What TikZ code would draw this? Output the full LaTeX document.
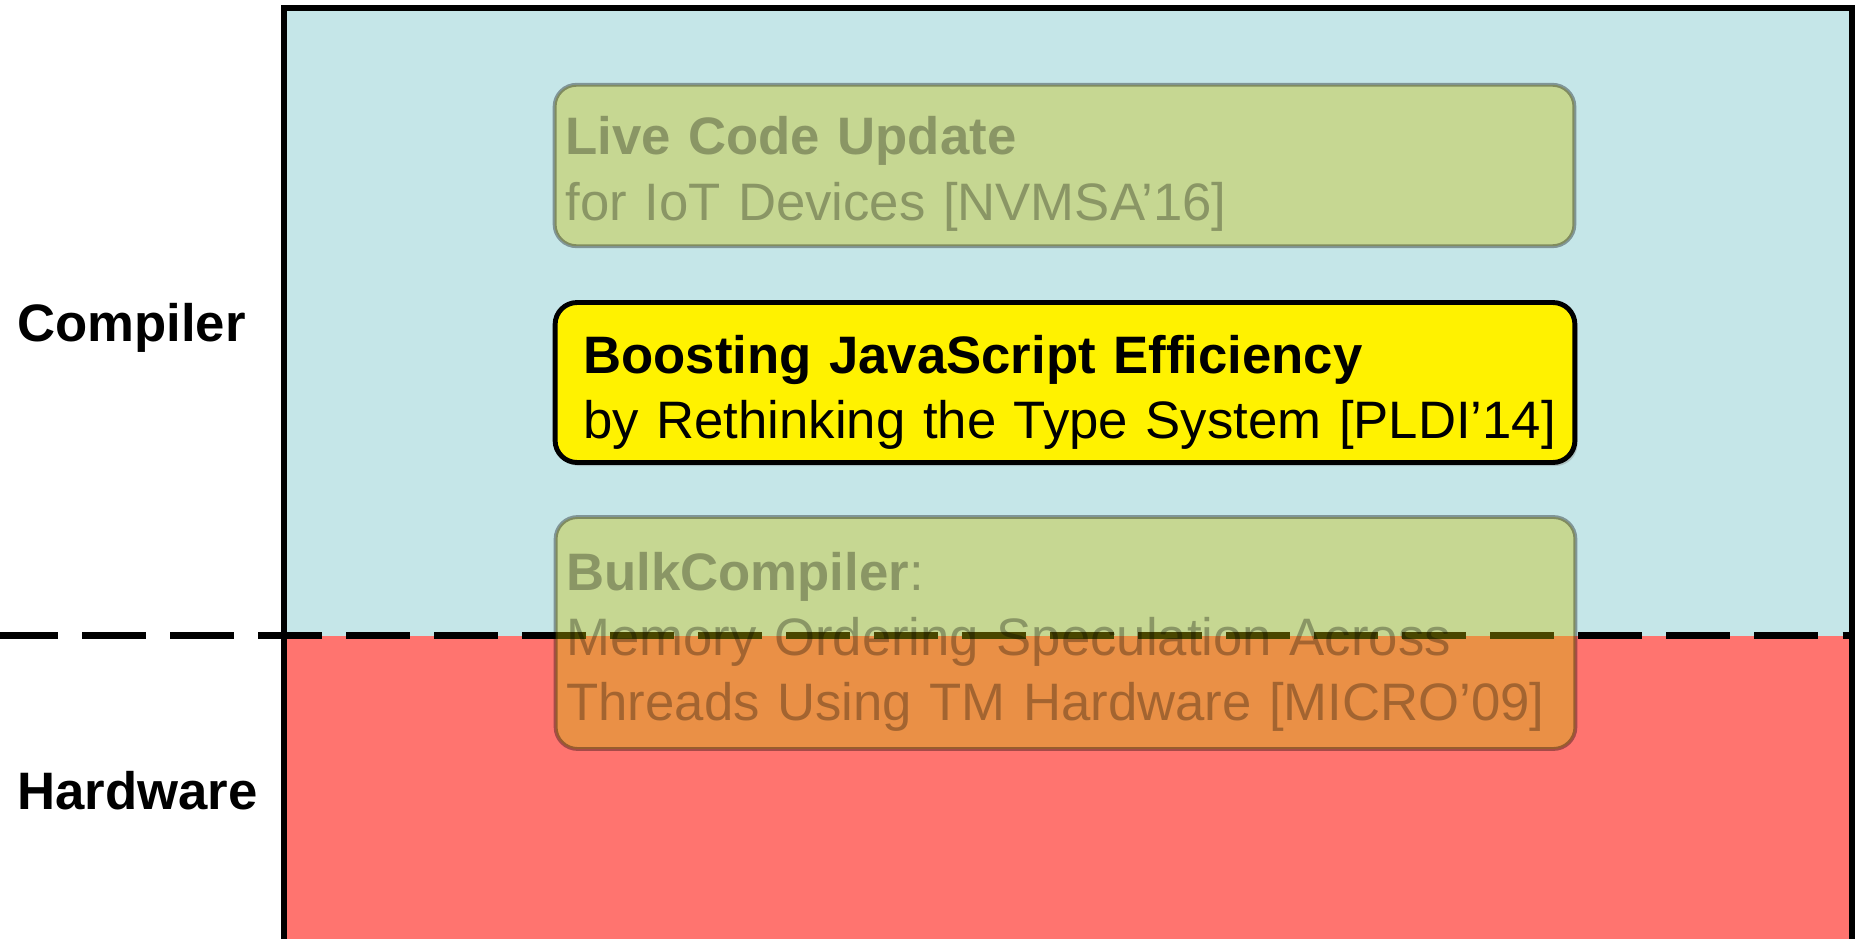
\documentclass[tikz,border=0pt]{standalone}
\usepackage{fontspec}
\setmainfont{Liberation Sans}
\usetikzlibrary{shadows}

\definecolor{compilerbg}{RGB}{197,230,232}
\definecolor{hardwarebg}{RGB}{255,116,111}
\definecolor{stalefill}{RGB}{200,192,0}

\tikzset{
  layer label/.style={anchor=base west, inner sep=0pt,
    font=\fontsize{30}{37}\selectfont\bfseries},
  split line/.style={line width=4.2pt, dash pattern=on 36.4pt off 13.7pt},
  paper/.style={rectangle, rounded corners=12.5pt, minimum width=20.4cm},
  hot paper/.style={paper, draw=black, fill=yellow, line width=2.8pt,
    drop shadow={shadow xshift=1.5pt, shadow yshift=-2pt, opacity=0.35}},
  old paper/.style={paper, draw=black, draw opacity=0.35,
    fill=stalefill, fill opacity=0.37, line width=2.2pt},
  paper text/.style={anchor=base west, inner sep=0pt, text width=21cm,
    align=left, font=\fontsize{30}{37}\selectfont},
  old text/.style={paper text, text opacity=0.3},
}

\begin{document}
\begin{tikzpicture}[x=0.02cm, y=-0.02cm]
  \useasboundingbox (0,0) rectangle (1858,939);

  % --- layers ---
  \fill[compilerbg] (284,8) rectangle (1852,635.5);
  \fill[hardwarebg] (284,635.5) rectangle (1852,939);

  % --- compiler / hardware border ---
  \coordinate (splitL) at (-6,635.5);
  \coordinate (splitR) at (1852,635.5);
  \draw[split line] (splitL) -- (splitR);

  % --- frame, open at the bottom ---
  \draw[line width=3.4pt] (284,945) -- (284,8) -- (1852,8) -- (1852,945);

  \node[layer label] (compiler) at (17,341) {Compiler};
  \node[layer label] (hardware) at (17,809) {Hardware};

  % --- papers ---
  \node[old paper, minimum height=3.23cm] (live) at (1064.5,165.5) {};
  \node[old text] (livetxt) at (565,155)
    {\textbf{Live Code Update}\\for IoT Devices [NVMSA'16]};

  \node[hot paper, minimum height=3.2cm] (boost) at (1065,382.5) {};
  \node[paper text] (boosttxt) at (583,373)
    {\textbf{Boosting JavaScript Efficiency}\\by Rethinking the Type System [PLDI'14]};

  \node[old paper, minimum height=4.64cm] (bulk) at (1065.5,633) {};
  \node[old text] (bulktxt) at (566,590)
    {\textbf{BulkCompiler}:\\Memory Ordering Speculation Across\\Threads Using TM Hardware [MICRO'09]};

\end{tikzpicture}
\end{document}
